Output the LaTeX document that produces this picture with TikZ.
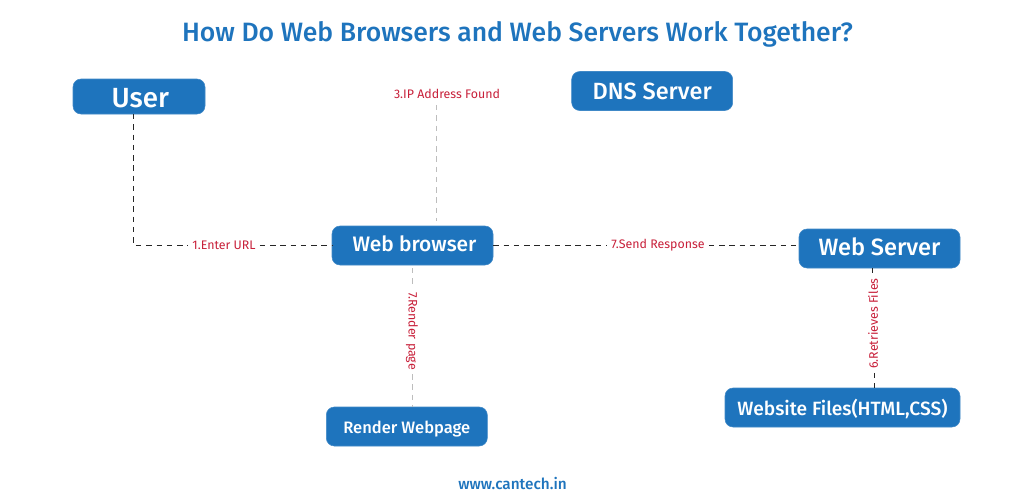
\documentclass[tikz,border=0pt]{standalone}
\usepackage{fontspec}
\setmainfont{Fira Sans}[BoldFont={Fira Sans Medium}]
\definecolor{boxblue}{HTML}{1E74BD}
\definecolor{lblred}{HTML}{C8203A}
\definecolor{dashgray}{HTML}{BDBDBD}
\tikzset{
  x=0.75pt,y=-0.75pt,
  boxnode/.style={fill=boxblue,draw=boxblue!85!white,line width=0.4pt,rounded corners=6pt,text=white,inner sep=0pt,anchor=center,text depth=0pt},
  lbl/.style={text=lblred,font=\fontsize{9.3pt}{10pt}\selectfont,inner xsep=3pt,inner ysep=0pt,anchor=center},
  darkdash/.style={draw=black!85,line width=0.6pt,dash pattern=on 4.1pt off 3.6pt},
  graydash/.style={draw=dashgray,line width=0.6pt,dash pattern=on 4.1pt off 3.6pt},
}
\newcommand{\bx}[7]{\node[boxnode,text height=0.9\dimexpr #5\relax,font=\bfseries\fontsize{#5}{#5}\selectfont,minimum width=#3*0.75pt,minimum height=#4*0.75pt] (#7) at (#1,#2) {#6};}
\begin{document}
\begin{tikzpicture}
\useasboundingbox (0,0) rectangle (1024,501);
\fill[white] (0,0) rectangle (1024,501);
\node[text=boxblue,font=\bfseries\fontsize{19.9pt}{20pt}\selectfont,inner sep=0pt] (title) at (517.5,34) {How Do Web Browsers and Web Servers Work Together?};
\node[text=boxblue,font=\bfseries\fontsize{11.5pt}{12pt}\selectfont,inner sep=0pt] (foot) at (512.5,483) {www.cantech.in};

\bx{139}{96.5}{132}{35}{20.8pt}{\kern2pt\raisebox{2.25pt}{User}}{user}
\bx{652.2}{91}{161}{39}{17.6pt}{\raisebox{2.25pt}{DNS Server}}{dns}
\bx{412.5}{245.5}{161}{39}{15.7pt}{\kern3pt\raisebox{3.4pt}{Web browser}}{browser}
\bx{879.5}{248.5}{161}{39}{17.7pt}{\raisebox{3.8pt}{Web Server}}{server}
\bx{406.8}{426.5}{161}{39}{12.4pt}{\raisebox{1pt}{Render Webpage}}{render}
\bx{842.5}{407.5}{235}{39}{14.4pt}{\raisebox{1.5pt}{Website Files(HTML,CSS)}}{files}

\node[lbl] (l1) at (224,245.5) {1.Enter URL};
\node[lbl] (l3) at (447,93.5) {3.IP Address Found};
\node[lbl] (l7a) at (658,245.5) {7.Send Response};
\node[lbl,rotate=-90] (l7b) at (412,331) {7.Render page};
\node[lbl,rotate=90] (l6) at (873,323.5) {6.Retrieves Files};

\coordinate (c1) at (133.5,245);
\coordinate (u1) at (133.5,114);
\coordinate (ipa) at (436,105);
\coordinate (ipb) at (436,221);
\coordinate (ra) at (412.5,268);
\coordinate (rb) at (412.5,407);
\coordinate (fa) at (872.8,268);
\coordinate (fb) at (874.3,388);

\draw[darkdash] (u1) -- (c1) -- (c1 -| l1.west);
\draw[darkdash] (c1 -| l1.east) -- (c1 -| browser.west);
\draw[darkdash] (c1 -| browser.east) -- (c1 -| l7a.west);
\draw[darkdash] (c1 -| l7a.east) -- (c1 -| server.west);
\draw[graydash] (ipa) -- (ipb);
\draw[graydash] (ra) -- (ra |- l7b.west);
\draw[graydash] (rb |- l7b.east) -- (rb);
\draw[darkdash] (fa) -- (fa |- l6.east);
\draw[darkdash] (fb |- l6.west) -- (fb);
\end{tikzpicture}
\end{document}
